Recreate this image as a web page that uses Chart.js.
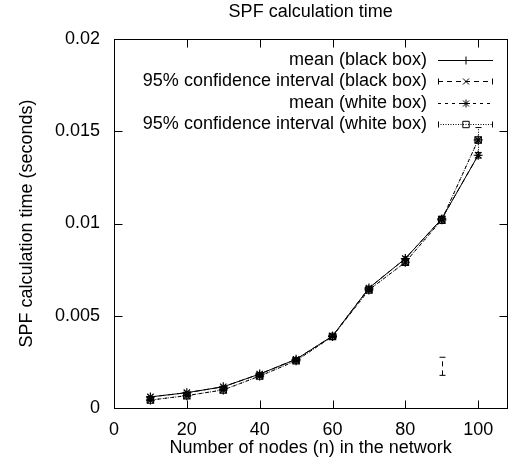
<!DOCTYPE html>
<html>
<head>
<meta charset="utf-8">
<script src="https://cdn.jsdelivr.net/npm/chart.js@4.4.1/dist/chart.umd.min.js"></script>
<style>
 html, body { margin: 0; padding: 0; background: #fff; }
 #wrap { width: 513px; height: 468px; }
</style>
</head>
<body>
<div id="wrap"><canvas id="spf-chart" width="513" height="468"></canvas></div>
<script>
var nodes = [10, 20, 30, 40, 50, 60, 70, 80, 90, 100];

var blackMean = [0.0006, 0.00083, 0.00115, 0.00184, 0.00264, 0.0039, 0.0065, 0.0081, 0.01025, 0.0137];
var blackLow = [0.00057, 0.0008, 0.00111, 0.00179, 0.00258, 0.00383, 0.0064, 0.008, 0.00177, 0.01355];
var blackHigh = [0.00063, 0.00086, 0.00119, 0.00189, 0.0027, 0.00397, 0.0066, 0.0082, 0.00275, 0.01385];

var whiteMean = [0.00043, 0.00067, 0.00098, 0.00173, 0.00256, 0.00388, 0.0064, 0.0079, 0.0102, 0.01453];
var whiteLow = [0.0004, 0.00063, 0.00094, 0.00168, 0.0025, 0.0038, 0.0063, 0.0078, 0.01, 0.0137];
var whiteHigh = [0.00046, 0.00071, 0.00102, 0.00178, 0.00262, 0.00396, 0.00646, 0.008, 0.0104, 0.0152];

var xTicks = [0, 20, 40, 60, 80, 100];
var yTicks = [0, 0.005, 0.01, 0.015, 0.02];
var yTickLabels = ["0", "0.005", "0.01", "0.015", "0.02"];

var seriesNames = [
 "mean (black box)",
 "95% confidence interval (black box)",
 "mean (white box)",
 "95% confidence interval (white box)",
];

var dashes = [[], [5, 4], [3, 4], [1, 1.5]];
var markers = ["cross", "crossRot", "star", "rect"];

function toPoints(values) {
 return nodes.map(function (n, i) {
  return { x: n, y: values[i] };
 });
}

Chart.defaults.font.family = "'Liberation Sans', Arial, sans-serif";
Chart.defaults.font.size = 18;
Chart.defaults.color = "#000";

function makeDataset(idx, values) {
 return {
  label: seriesNames[idx],
  data: toPoints(values),
  borderColor: "#000",
  borderWidth: 1,
  borderDash: dashes[idx],
  pointStyle: markers[idx],
  pointRadius: 4.5,
  pointBorderWidth: 1.2,
  pointBorderColor: "#000",
  pointBackgroundColor: "rgba(0,0,0,0)",
  fill: false,
  tension: 0,
 };
}

function drawMarker(ctx, style, x, y, r) {
 ctx.beginPath();
 if (style === "cross" || style === "star") {
  ctx.moveTo(x - r, y);
  ctx.lineTo(x + r, y);
  ctx.moveTo(x, y - r);
  ctx.lineTo(x, y + r);
 }
 if (style === "crossRot" || style === "star") {
  var d = r * 0.75;
  ctx.moveTo(x - d, y - d);
  ctx.lineTo(x + d, y + d);
  ctx.moveTo(x - d, y + d);
  ctx.lineTo(x + d, y - d);
 }
 if (style === "rect") {
  ctx.rect(x - r * 0.8, y - r * 0.8, r * 1.6, r * 1.6);
 }
 ctx.stroke();
}

// gnuplot-ish frame, inward ticks, error bars, title and key
var gnuplotBits = {
 id: "gnuplotBits",
 afterDatasetsDraw: function (chart) {
  var ctx = chart.ctx;
  var xs = chart.scales.x;
  var ys = chart.scales.y;
  var bars = [
   { low: blackLow, high: blackHigh, dash: dashes[1] },
   { low: whiteLow, high: whiteHigh, dash: dashes[3] },
  ];
  ctx.save();
  ctx.strokeStyle = "#000";
  ctx.lineWidth = 1;
  bars.forEach(function (b) {
   ctx.setLineDash(b.dash);
   nodes.forEach(function (n, i) {
    var px = Math.round(xs.getPixelForValue(n)) + 0.5;
    var y1 = ys.getPixelForValue(b.low[i]);
    var y2 = ys.getPixelForValue(b.high[i]);
    ctx.beginPath();
    ctx.moveTo(px, y1);
    ctx.lineTo(px, y2);
    ctx.stroke();
    ctx.setLineDash([]);
    ctx.beginPath();
    ctx.moveTo(px - 3, y1);
    ctx.lineTo(px + 3, y1);
    ctx.moveTo(px - 3, y2);
    ctx.lineTo(px + 3, y2);
    ctx.stroke();
    ctx.setLineDash(b.dash);
   });
  });
  ctx.restore();
 },
 afterDraw: function (chart) {
  var ctx = chart.ctx;
  var area = chart.chartArea;
  var xs = chart.scales.x;
  var ys = chart.scales.y;
  var tick = 8;
  ctx.save();
  ctx.strokeStyle = "#000";
  ctx.lineWidth = 1;
  ctx.setLineDash([]);

  var l = Math.round(area.left) + 0.5;
  var r = Math.round(area.right) + 0.5;
  var t = Math.round(area.top) + 0.5;
  var b = Math.round(area.bottom) + 0.5;
  ctx.strokeRect(l, t, r - l, b - t);

  ctx.beginPath();
  xTicks.forEach(function (v) {
   var px = Math.round(xs.getPixelForValue(v)) + 0.5;
   ctx.moveTo(px, b);
   ctx.lineTo(px, b - tick);
   ctx.moveTo(px, t);
   ctx.lineTo(px, t + tick);
  });
  yTicks.forEach(function (v) {
   var py = Math.round(ys.getPixelForValue(v)) + 0.5;
   ctx.moveTo(l, py);
   ctx.lineTo(l + tick, py);
   ctx.moveTo(r, py);
   ctx.lineTo(r - tick, py);
  });
  ctx.stroke();

  ctx.fillStyle = "#000";
  ctx.font = "18px 'Liberation Sans', Arial, sans-serif";
  ctx.textAlign = "center";
  ctx.textBaseline = "middle";
  ctx.fillText("SPF calculation time", (area.left + area.right) / 2, 12);

  // key, top right inside the plot
  ctx.textAlign = "right";
  for (var i = 0; i < seriesNames.length; i++) {
   var ry = 60 + i * 21.3;
   ctx.fillText(seriesNames[i], 427, ry);
   var sy = Math.round(ry) + 0.5;
   ctx.setLineDash(dashes[i]);
   ctx.beginPath();
   ctx.moveTo(438, sy);
   ctx.lineTo(493, sy);
   ctx.stroke();
   ctx.setLineDash([]);
   if (i === 1 || i === 3) {
    ctx.beginPath();
    ctx.moveTo(438.5, sy - 3);
    ctx.lineTo(438.5, sy + 3);
    ctx.moveTo(492.5, sy - 3);
    ctx.lineTo(492.5, sy + 3);
    ctx.stroke();
   }
   drawMarker(ctx, markers[i], 466, sy, 4);
  }
  ctx.restore();
 },
};

var ctx = document.getElementById("spf-chart");

new Chart(ctx, {
 type: "line",
 data: {
  datasets: [
   makeDataset(0, blackMean),
   makeDataset(1, blackMean),
   makeDataset(2, whiteMean),
   makeDataset(3, whiteMean),
  ],
 },
 options: {
  responsive: false,
  animation: false,
  layout: {
   padding: { top: 39, right: 5, left: 0, bottom: 0 },
  },
  plugins: {
   legend: { display: false },
   title: { display: false },
   tooltip: { enabled: false },
  },
  scales: {
   x: {
    type: "linear",
    min: 0,
    max: 108,
    afterBuildTicks: function (scale) {
     scale.ticks = xTicks.map(function (v) {
      return { value: v };
     });
    },
    afterFit: function (scale) {
     scale.height = 60;
    },
    grid: { display: false, drawTicks: false },
    border: { display: false },
    ticks: { padding: 11, maxRotation: 0, autoSkip: false },
    title: {
     display: true,
     text: "Number of nodes (n) in the network",
     padding: { top: 0, bottom: 9 },
    },
   },
   y: {
    type: "linear",
    min: 0,
    max: 0.02,
    afterBuildTicks: function (scale) {
     scale.ticks = yTicks.map(function (v) {
      return { value: v };
     });
    },
    afterFit: function (scale) {
     scale.width = 114;
    },
    grid: { display: false, drawTicks: false },
    border: { display: false },
    ticks: {
     padding: 14,
     autoSkip: false,
     callback: function (value) {
      return yTickLabels[yTicks.indexOf(value)];
     },
    },
    title: {
     display: true,
     text: "SPF calculation time (seconds)",
     padding: { top: 16, bottom: 0 },
    },
   },
  },
 },
 plugins: [gnuplotBits],
});
</script>
</body>
</html>
